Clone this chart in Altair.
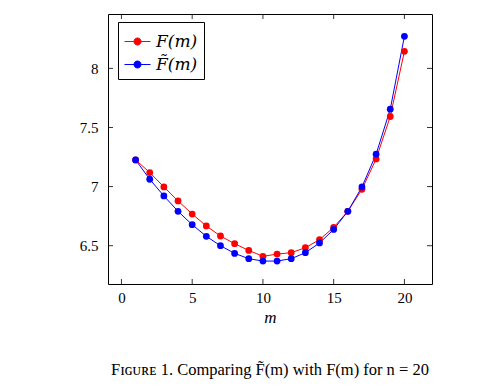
import altair as alt
import pandas as pd

m_values = list(range(1, 21))
F_values = [7.226, 7.119, 6.997, 6.879, 6.768, 6.667, 6.582, 6.517, 6.460, 6.410,
            6.429, 6.441, 6.483, 6.551, 6.655, 6.791, 6.977, 7.234, 7.593, 8.144]
Ft_values = [7.226, 7.062, 6.921, 6.791, 6.678, 6.579, 6.500, 6.435, 6.390, 6.370,
             6.370, 6.390, 6.441, 6.523, 6.638, 6.791, 6.997, 7.274, 7.655, 8.271]
series_names = ["F(m)", "F\u0303(m)"]
series_colors = ["#ff0000", "#0000ff"]
x_ticks = [0, 5, 10, 15, 20]
y_ticks = [6.5, 7, 7.5, 8]
caption = "F\u026a\u0262\u1d1c\u0280\u1d07 1.  Comparing F\u0303(m) with F(m) for n = 20"

rows = []
for name, vals in zip(series_names, [F_values, Ft_values]):
    for m, v in zip(m_values, vals):
        rows.append({"m": m, "value": v, "series": name})
df = pd.DataFrame(rows)

W, H = 324, 270
xscale = alt.Scale(domain=[-0.95, 21.95], nice=False, zero=False)
yscale = alt.Scale(domain=[6.176, 8.46], nice=False, zero=False)
FONT = "Liberation Serif"

xaxis = alt.Axis(values=x_ticks, ticks=False, domain=False, grid=False,
                 labelFont=FONT, labelFontSize=15, labelColor="black",
                 labelPadding=6, title="m", titleFont=FONT,
                 titleFontStyle="italic", titleFontWeight="normal",
                 titleFontSize=17, titleColor="black", titlePadding=4)
yaxis = alt.Axis(values=y_ticks, ticks=False, domain=False, grid=False,
                 format="~g",
                 labelFont=FONT, labelFontSize=15, labelColor="black",
                 labelPadding=10, title=None)

sym_path = "M-1,0H1M-0.27,0A0.27,0.27 0 1,1 0.27,0A0.27,0.27 0 1,1 -0.27,0Z"

lines = alt.Chart(df).mark_line(
    strokeWidth=1,
    point=alt.OverlayMarkDef(filled=True, size=46),
).encode(
    x=alt.X("m:Q", scale=xscale, axis=xaxis, title="m"),
    y=alt.Y("value:Q", scale=yscale, axis=yaxis, title=None),
    color=alt.Color("series:N",
                    scale=alt.Scale(domain=series_names, range=series_colors),
                    sort=series_names,
                    legend=alt.Legend(
                        title=None, orient="none", legendX=10, legendY=8,
                        symbolType=sym_path, symbolSize=676, symbolStrokeWidth=1,
                        symbolOpacity=1,
                        labelFont="DejaVu Serif", labelFontStyle="italic",
                        labelFontSize=17,
                        labelColor="black", labelOffset=5, rowPadding=1,
                        padding=6, strokeColor="black", fillColor="white",
                        cornerRadius=0,
                    )),
)

xt = pd.DataFrame({"t": x_ticks})
yt = pd.DataFrame({"t": y_ticks})
tick_len = 5
bot = alt.Chart(xt).mark_rule(color="black", strokeWidth=0.8).encode(
    x=alt.X("t:Q", scale=xscale, axis=xaxis, title="m"),
    y=alt.value(H), y2=alt.value(H - tick_len))
top = alt.Chart(xt).mark_rule(color="black", strokeWidth=0.8).encode(
    x=alt.X("t:Q", scale=xscale, axis=xaxis, title="m"),
    y=alt.value(0), y2=alt.value(tick_len))
left = alt.Chart(yt).mark_rule(color="black", strokeWidth=0.8).encode(
    y=alt.Y("t:Q", scale=yscale, axis=yaxis, title=None),
    x=alt.value(0), x2=alt.value(tick_len))
right = alt.Chart(yt).mark_rule(color="black", strokeWidth=0.8).encode(
    y=alt.Y("t:Q", scale=yscale, axis=yaxis, title=None),
    x=alt.value(W), x2=alt.value(W - tick_len))

chart = alt.layer(lines, bot, top, left, right).properties(
    width=W, height=H,
    autosize=alt.AutoSizeParams(type="none"),
    padding={"left": 100, "top": 6, "right": 40, "bottom": 95},
    title=alt.TitleParams(caption, orient="bottom", anchor="middle", offset=37,
                          font=FONT, fontSize=16.5, fontWeight="normal", color="black"),
).configure_view(stroke="black", strokeWidth=1)

chart.save("out.html", embed_options={"renderer": "svg", "actions": False})
